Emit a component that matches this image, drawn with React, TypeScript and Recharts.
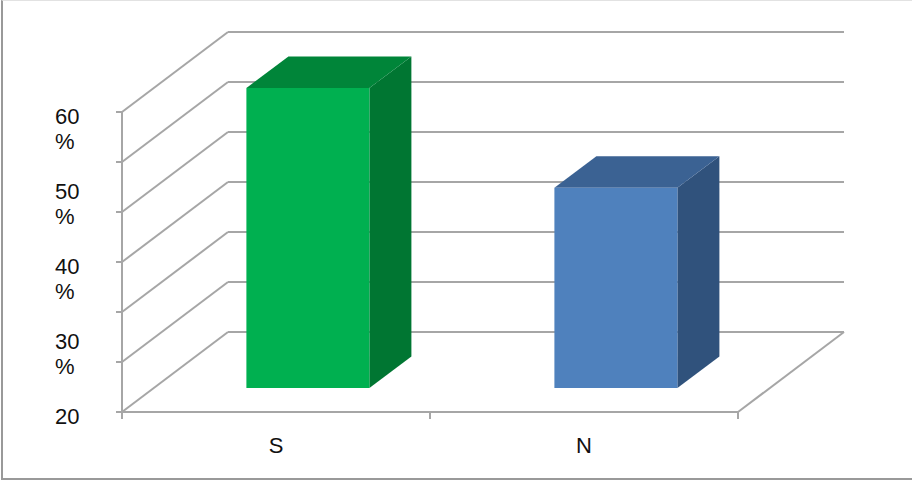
import { BarChart, Bar, XAxis, YAxis, CartesianGrid, Cell } from 'recharts'

const categories = ['S', 'N']
const values = [60, 46.7]

// wall gridlines sit at six equal steps; the printed labels sit at tens
const gridTicks = [20, 26.67, 33.33, 40, 46.67, 53.33, 60]
const labelTicks = [20, 30, 40, 50, 60]
const labelText = ['20', '30 %', '40 %', '50 %', '60 %']

const data = categories.map((name, i) => ({ name, value: values[i] }))

const faces: Record<string, { front: string; top: string; side: string }> = {
  S: { front: '#00b050', top: '#008539', side: '#007632' },
  N: { front: '#4f81bd', top: '#3b6293', side: '#30527c' },
}

// oblique projection of the box: wall depth and where the bars sit inside it
const WALL_DX = 106
const WALL_DY = 80
const BAR_DX = 32
const BAR_DY = 24
const DEPTH_DX = 42
const DEPTH_DY = 31.5

const GRID = '#a6a6a6'
const FONT = '"Liberation Sans", Arial, sans-serif'

function WallLine(props: any) {
  const { x1, y1, x2, x, y, width, height } = props
  const bx = x1 + WALL_DX
  const by = y1 - WALL_DY
  const isFloor = Math.abs(y1 - (y + height)) < 1
  const step = width / categories.length
  return (
    <g>
      <line x1={x1 - 6} y1={y1} x2={x1} y2={y1} stroke={GRID} strokeWidth={2} />
      <line x1={x1} y1={y1} x2={bx} y2={by} stroke={GRID} strokeWidth={2} />
      <line x1={bx} y1={by} x2={x2 + WALL_DX} y2={by} stroke={GRID} strokeWidth={2} />
      {isFloor && (
        <g>
          <line x1={x2} y1={y1} x2={x2 + WALL_DX} y2={by} stroke={GRID} strokeWidth={2} />
          {categories.concat(['']).map((_, k) => (
            <line
              key={k}
              x1={x + k * step}
              y1={y1}
              x2={x + k * step}
              y2={y1 + 7}
              stroke={GRID}
              strokeWidth={2}
            />
          ))}
        </g>
      )}
    </g>
  )
}

function Box(props: any) {
  const { x, y, width, height, payload } = props
  const c = faces[payload.name]
  const fx = x + BAR_DX
  const fy = y - BAR_DY
  const bottom = fy + height
  const top = `${fx},${fy} ${fx + DEPTH_DX},${fy - DEPTH_DY} ${fx + width + DEPTH_DX},${fy - DEPTH_DY} ${fx + width},${fy}`
  const side = `${fx + width},${fy} ${fx + width + DEPTH_DX},${fy - DEPTH_DY} ${fx + width + DEPTH_DX},${bottom - DEPTH_DY} ${fx + width},${bottom}`
  return (
    <g>
      <polygon points={side} fill={c.side} />
      <polygon points={top} fill={c.top} />
      <rect x={fx} y={fy} width={width} height={height} fill={c.front} />
    </g>
  )
}

function YLabel(props: any) {
  const { x, y, payload } = props
  const idx = labelTicks.indexOf(payload.value)
  const lines = (labelText[idx] ?? '').split(' ')
  return (
    <text x={x} y={y} textAnchor="start" fontSize={22} fontFamily={FONT} fill="#111">
      {lines.map((t, i) => (
        <tspan key={i} x={x} y={y + 12 + i * 25}>
          {t}
        </tspan>
      ))}
    </text>
  )
}

export default function App() {
  return (
    <div style={{ position: 'absolute', left: 0, top: 0, width: 912, height: 481, background: '#fff' }}>
      <div
        style={{
          position: 'absolute',
          left: 1,
          top: 0,
          width: 911,
          height: 480,
          boxSizing: 'border-box',
          borderTop: '1px solid #e2e2e2',
          borderLeft: '2px solid #999',
          borderBottom: '2px solid #999',
        }}
      />
      <div style={{ position: 'absolute', left: 0, top: 0 }}>
        <BarChart
          width={912}
          height={481}
          data={data}
          margin={{ top: 112, right: 174, bottom: 29, left: 55 }}
          barCategoryGap="30%"
        >
          <CartesianGrid
            vertical={false}
            horizontalValues={gridTicks}
            horizontal={(p: any) => <WallLine key={p.key} {...p} />}
          />
          <XAxis
            dataKey="name"
            height={40}
            axisLine={{ stroke: GRID, strokeWidth: 2 }}
            tickLine={false}
            tickSize={0}
            tickMargin={25}
            tick={{ fontSize: 22, fontFamily: FONT, fill: '#111' }}
          />
          <YAxis
            width={67}
            domain={[20, 60]}
            ticks={labelTicks}
            interval={0}
            axisLine={{ stroke: GRID, strokeWidth: 2 }}
            tickLine={false}
            tickSize={0}
            tickMargin={67}
            tick={<YLabel />}
          />
          <Bar dataKey="value" shape={<Box />} isAnimationActive={false}>
            {data.map((d) => (
              <Cell key={d.name} fill={faces[d.name].front} />
            ))}
          </Bar>
        </BarChart>
      </div>
    </div>
  )
}
